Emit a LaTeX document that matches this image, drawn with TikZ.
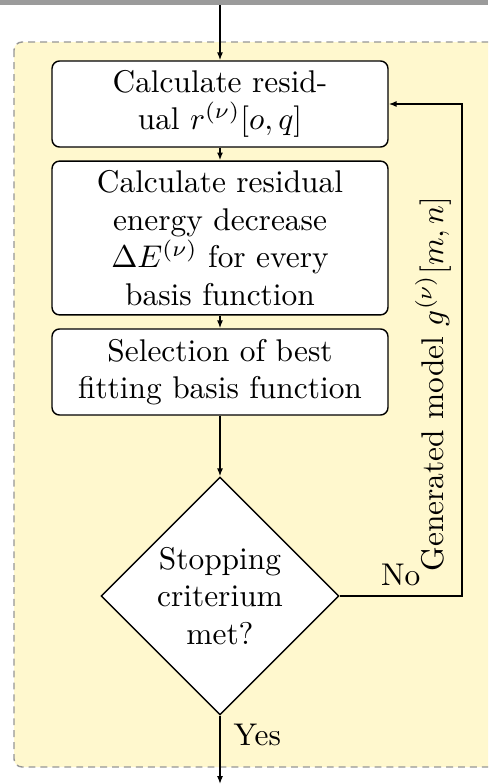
\documentclass[tikz,border=0pt]{standalone}
\usetikzlibrary{arrows.meta,shapes.geometric}
\definecolor{bgyellow}{RGB}{255,248,206}
\definecolor{dashgray}{RGB}{150,150,150}
\definecolor{bargray}{RGB}{155,155,155}
\begin{document}
\begin{tikzpicture}[x=0.3185pt,y=-0.3185pt,
  procbox/.style={draw, rounded corners=2.4pt, fill=white, align=center,
    minimum width=107pt, inner sep=0pt, line width=0.45pt},
  decision/.style={draw, diamond, fill=white, align=center, inner sep=0pt,
    minimum width=75.8pt, minimum height=75.8pt, line width=0.45pt},
  conn/.style={line width=0.45pt, -{Latex[length=2.5pt,width=1.9pt]}},
  line/.style={line width=0.45pt}]
\clip (0,0) rectangle (488,784);
\useasboundingbox (0,0) rectangle (488,784);
\fill[white] (0,0) rectangle (488,784);
\fill[bargray] (0,0) rectangle (488,5);
\draw[fill=bgyellow, draw=dashgray, line width=0.45pt, dash pattern=on 2.2pt off 1.6pt, rounded corners=2.6pt]
  (14,42) rectangle (520,767);
\node[procbox, minimum height=27.4pt] (b1) at (220,104)
  {Calculate resid-\\ual $r^{(\nu)}[o,q]$};
\node[procbox, minimum height=49pt] (b2) at (220,238)
  {Calculate residual\\energy decrease\\$\Delta E^{(\nu)}$ for every\\basis function};
\node[procbox, minimum height=27.4pt] (b3) at (220,372)
  {Selection of best\\fitting basis function};
\node[decision] (d) at (220,596) {Stopping\\criterium\\met?};
\coordinate (top) at (220,5);
\coordinate (bot) at (220,784);
\coordinate (c1) at (462,596);
\coordinate (c2) at (462,104);
\draw[conn] (top) -- (b1.north);
\draw[conn] (b1.south) -- (b2.north);
\draw[conn] (b2.south) -- (b3.north);
\draw[conn] (b3.south) -- (d.north);
\draw[conn] (d.south) -- (bot);
\draw[conn] (d.east) -- (c1) -- (c2) -- (b1.east);
\node[anchor=base east, inner sep=0pt] (no) at (421,585) {No};
\node[anchor=base west, rotate=90, inner sep=0pt] (gm) at (443,572) {Generated model $g^{(\nu)}[m,n]$};
\node[anchor=base west, inner sep=0pt] (yes) at (233,745) {Yes};
\end{tikzpicture}
\end{document}
